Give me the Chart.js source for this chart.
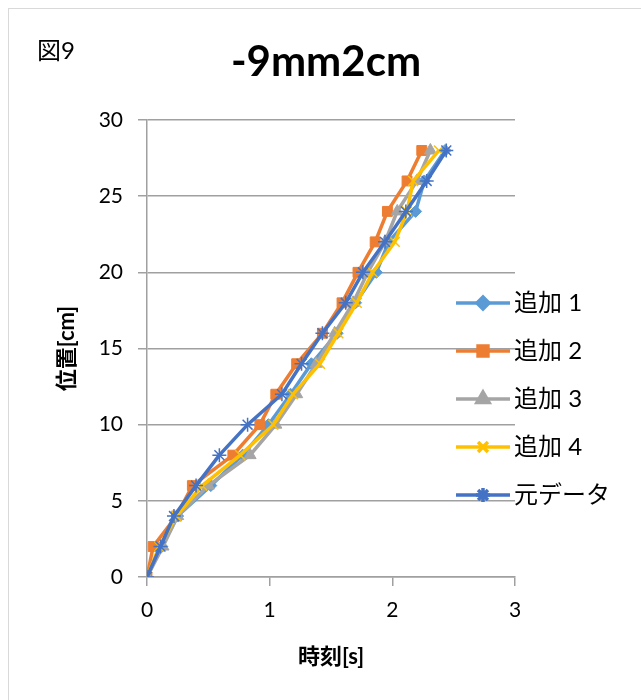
<!DOCTYPE html>
<html>
<head>
<meta charset="utf-8">
<script src="https://cdn.jsdelivr.net/npm/chart.js@4"></script>
<style>
  body { margin: 0; background: #fff; }
  #wrap { position: relative; width: 641px; height: 700px; }
</style>
</head>
<body>
<div id="wrap"><canvas id="posChart" width="641" height="700"></canvas></div>
<script>
// position [cm] and times [s]
const positions = [0, 2, 4, 6, 8, 10, 12, 14, 16, 18, 20, 22, 24, 26, 28];
const tAdd1 = [0, 0.12, 0.25, 0.52, 0.78, 0.99, 1.17, 1.34, 1.55, 1.70, 1.87, 1.97, 2.19, 2.26, 2.43];
const tAdd2 = [0, 0.05, 0.24, 0.37, 0.70, 0.92, 1.05, 1.22, 1.43, 1.59, 1.72, 1.86, 1.96, 2.12, 2.24];
const tAdd3 = [0, 0.13, 0.25, 0.50, 0.84, 1.05, 1.22, 1.38, 1.53, 1.68, 1.80, 1.94, 2.04, 2.20, 2.31];
const tAdd4 = [0, 0.10, 0.24, 0.45, 0.76, 1.03, 1.19, 1.41, 1.56, 1.71, 1.84, 2.02, 2.12, 2.17, 2.38];
const tOrig = [0, 0.11, 0.22, 0.40, 0.59, 0.82, 1.10, 1.26, 1.43, 1.62, 1.76, 1.94, 2.11, 2.28, 2.44];
const seriesNames = ['追加 1', '追加 2', '追加 3', '追加 4', '元データ'];
const xTicks = [0, 1, 2, 3];
const yTicks = [0, 5, 10, 15, 20, 25, 30];

const FONT = 'Lato, "Noto Sans CJK JP", sans-serif';

function pts(times) {
    return times.map((t, i) => ({ x: t, y: positions[i] }));
}

function makeSet(i, times, color, style, radius, order) {
    return {
        label: seriesNames[i],
        data: pts(times),
        showLine: true,
        borderColor: color,
        backgroundColor: color,
        borderWidth: 3.5,
        pointStyle: style,
        pointRadius: radius,
        pointBorderWidth: style === 'crossRot' || style === 'star' ? 1.5 : 1,
        pointBorderColor: color,
        pointBackgroundColor: color,
        order: order
    };
}

// title, figure number, frame and Excel-like legend
const decorations = {
    id: 'decorations',
    afterDraw(chart) {
        const ctx = chart.ctx;
        ctx.save();
        ctx.strokeStyle = '#d9d9d9';
        ctx.lineWidth = 1;
        ctx.strokeRect(8.5, 8.5, 700, 720);

        ctx.fillStyle = '#000';
        ctx.textBaseline = 'middle';
        ctx.textAlign = 'left';
        ctx.font = '24px ' + FONT;
        ctx.fillText('図9', 37, 51);

        ctx.textAlign = 'center';
        ctx.font = 'bold 42px ' + FONT;
        ctx.fillText('-9mm2cm', 326, 62);

        const legendY = [303, 351, 399, 447, 495];
        chart.data.datasets.forEach((ds, i) => {
            const y = legendY[i];
            ctx.strokeStyle = ds.borderColor;
            ctx.lineWidth = 3.5;
            ctx.beginPath();
            ctx.moveTo(456, y);
            ctx.lineTo(510, y);
            ctx.stroke();
            ctx.fillStyle = ds.borderColor;
            Chart.helpers.drawPoint(ctx, {
                pointStyle: ds.pointStyle,
                radius: ds.pointRadius,
                borderWidth: ds.pointBorderWidth
            }, 483, y);
            ctx.fillStyle = '#000';
            ctx.textAlign = 'left';
            ctx.font = '24px ' + FONT;
            ctx.fillText(ds.label, 514, y);
        });
        ctx.restore();
    }
};

const ctx = document.getElementById('posChart').getContext('2d');
const posChart = new Chart(ctx, {
    type: 'scatter',
    data: {
        datasets: [
            makeSet(0, tAdd1, '#5B9BD5', 'rectRot', 6, 5),
            makeSet(1, tAdd2, '#ED7D31', 'rect', 7, 4),
            makeSet(2, tAdd3, '#A5A5A5', 'triangle', 7, 3),
            makeSet(3, tAdd4, '#FFC000', 'crossRot', 7, 2),
            makeSet(4, tOrig, '#4472C4', 'star', 7, 1)
        ]
    },
    options: {
        responsive: false,
        animation: false,
        layout: { padding: { left: 50, top: 120, right: 126, bottom: 26 } },
        plugins: {
            legend: { display: false },
            title: { display: false },
            tooltip: { enabled: false }
        },
        scales: {
            x: {
                type: 'linear',
                min: 0,
                max: 3,
                afterBuildTicks: s => { s.ticks = xTicks.map(v => ({ value: v })); },
                afterFit: s => { s.height = 97; },
                ticks: { color: '#000', font: { family: FONT, size: 21 }, padding: 12 },
                grid: { drawOnChartArea: false, drawTicks: true, tickLength: 9, color: '#a0a0a0', lineWidth: 1.5 },
                border: { color: '#a0a0a0', width: 1.5 },
                title: { display: true, text: '時刻[s]', color: '#000', font: { family: FONT, size: 22, weight: 'bold' }, padding: 4 }
            },
            y: {
                type: 'linear',
                min: 0,
                max: 30,
                afterBuildTicks: s => { s.ticks = yTicks.map(v => ({ value: v })); },
                afterFit: s => { s.width = 97; },
                ticks: { color: '#000', font: { family: FONT, size: 21 }, padding: 15 },
                grid: { color: '#a0a0a0', lineWidth: 1.5, tickLength: 9 },
                border: { color: '#a0a0a0', width: 1.5 },
                title: { display: true, text: '位置[cm]', color: '#000', font: { family: FONT, size: 22, weight: 'bold' }, padding: 4 }
            }
        }
    },
    plugins: [decorations]
});
</script>
</body>
</html>
